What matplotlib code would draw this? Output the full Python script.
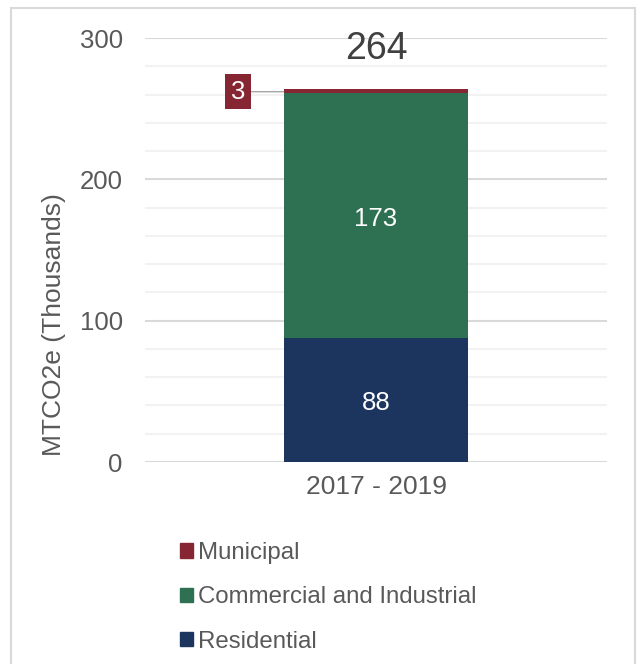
import matplotlib
matplotlib.use("Agg")
import matplotlib.pyplot as plt
from matplotlib.patches import Rectangle, Patch

plt.rcParams["font.family"] = ["Liberation Sans", "DejaVu Sans"]

period = ["2017 - 2019"]
residential = [88]
commercial = [173]
municipal = [3]
sector_names = ["Residential", "Commercial and Industrial", "Municipal"]
sector_colors = ["#1c355e", "#2e7152", "#862633"]

text_grey = "#595959"

fig = plt.figure(figsize=(6.41, 6.64), dpi=100)
ax = fig.add_axes([145 / 641, 1 - 462 / 664, 462 / 641, 424 / 664])

# outer frame around the whole chart (open at the bottom)
fig.patches.append(Rectangle((11 / 641, -0.05), 624 / 641, 1.05 - 8 / 664,
                             transform=fig.transFigure, fill=False,
                             edgecolor="#d9d9d9", linewidth=1.5))

x = range(len(period))
width = 0.4
bottoms = [0] * len(period)
series = [residential, commercial, municipal]
for vals, name, col in zip(series, sector_names, sector_colors):
    ax.bar(x, vals, width, bottom=bottoms, color=col, label=name, zorder=3)
    bottoms = [b + v for b, v in zip(bottoms, vals)]

for i in x:
    # segment labels inside the bar
    for y, v in [(residential[i] / 2, residential[i]),
                 (residential[i] + commercial[i] / 2, commercial[i])]:
        ax.annotate(f"{v}", xy=(i, y), xytext=(0, -2.5), textcoords="offset points",
                    ha="center", va="center", color="white", fontsize=18.5)
    # municipal value in a callout to the left of the bar
    top = residential[i] + commercial[i] + municipal[i]
    ax.annotate(f"{municipal[i]}", xy=(i - width / 2, top - municipal[i] / 2 - 0.5),
                xytext=(-33, 0), textcoords="offset points",
                ha="center", va="center", color="white", fontsize=18.5,
                bbox=dict(boxstyle="square,pad=0.22", fc=sector_colors[2], ec="none"),
                arrowprops=dict(arrowstyle="-", color="#a6a6a6", lw=1,
                                shrinkA=0, shrinkB=0))
    # total above the bar
    ax.annotate(f"{top}", xy=(i, top), xytext=(0, 29), textcoords="offset points",
                ha="center", va="center", color="#404040", fontsize=27)

ax.set_xlim(-0.5, 0.5)
ax.set_ylim(0, 300)
ax.set_yticks([0, 100, 200, 300])
ax.set_yticks(range(20, 300, 20), minor=True)
ax.set_xticks(list(x))
ax.set_xticklabels(period)
ax.grid(axis="y", which="major", color="#d9d9d9", linewidth=1.5, zorder=0)
ax.grid(axis="y", which="minor", color="#f2f2f2", linewidth=1.5, zorder=0)
for s in ax.spines.values():
    s.set_visible(False)
ax.tick_params(which="both", length=0)
ax.tick_params(axis="y", labelsize=18.5, labelcolor=text_grey, pad=16)
ax.tick_params(axis="x", labelsize=19, labelcolor=text_grey, pad=9)

fig.text(54 / 641, 1 - 325 / 664, "MTCO2e (Thousands)", rotation=90,
         ha="center", va="center", fontsize=19, color=text_grey)

handles = [Patch(color=c) for c in sector_colors][::-1]
leg = fig.legend(handles, sector_names[::-1], loc="upper left",
                 bbox_to_anchor=(180 / 641, 1 - 542 / 664), frameon=False,
                 fontsize=17.3, handlelength=0.54, handleheight=0.54,
                 handletextpad=0.22, labelspacing=0.93, borderpad=0,
                 borderaxespad=0)
for t in leg.get_texts():
    t.set_color(text_grey)

fig.savefig("out.png", dpi=100)
